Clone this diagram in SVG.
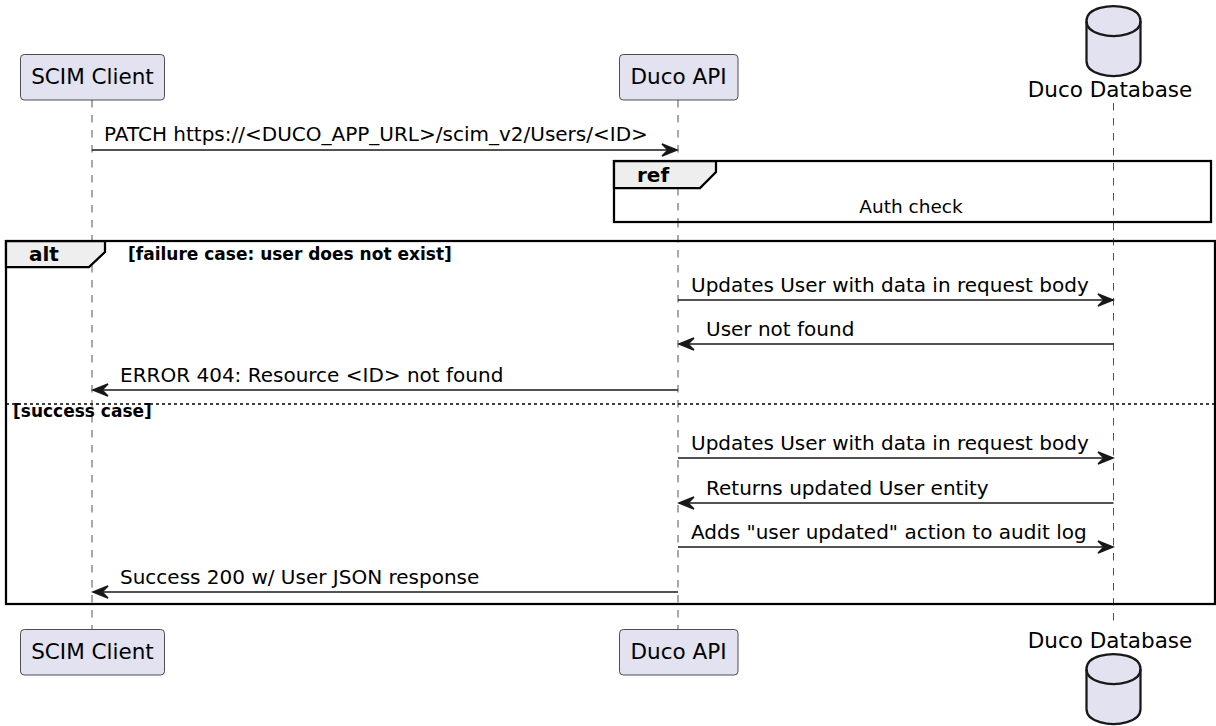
<svg xmlns="http://www.w3.org/2000/svg" width="1216" height="726" viewBox="0 0 1216 726">
<style>
 text { font-family: "DejaVu Sans", "Liberation Sans", sans-serif; fill:#000000; }
 .pbox { fill:#E2E2F0; stroke:#181818; stroke-width:0.75; }
 .pname { font-size:21.5px; text-anchor:middle; }
 .life { stroke:#181818; stroke-width:0.75; stroke-dasharray:7.5,7.5; fill:none; }
 .msg { stroke:#181818; stroke-width:1.5; fill:none; marker-end:url(#arr); }
 .mtext { font-size:20px; }
 .frame { fill:none; stroke:#000000; stroke-width:2.25; }
 .tab { fill:#EEEEEE; stroke:#000000; stroke-width:2.25; }
 .ftitle { font-size:20px; font-weight:bold; }
 .guard { font-size:17px; font-weight:bold; }
 .sep { stroke:#000000; stroke-width:1.5; stroke-dasharray:3,3; fill:none; }
 .db { fill:#E2E2F0; stroke:#181818; stroke-width:2.25; }
 .dbl { fill:none; stroke:#181818; stroke-width:2.25; }
</style>
<defs>
 <marker id="arr" markerUnits="userSpaceOnUse" markerWidth="18" markerHeight="14" refX="15" refY="6" orient="auto" overflow="visible">
  <polygon points="0,0 15,6 0,12 6,6" fill="#181818" stroke="#181818" stroke-width="1.5"/>
 </marker>
</defs>
<rect x="0" y="0" width="1216" height="726" fill="#FFFFFF"/>

<g id="lifelines">
 <line class="life" x1="92" y1="100" x2="92" y2="629"/>
 <line class="life" x1="678" y1="100" x2="678" y2="629"/>
 <line class="life" x1="1113.5" y1="103" x2="1113.5" y2="626"/>
</g>

<g id="ref-auth-check">
 <rect class="frame" x="614" y="161" width="597" height="61" style="fill:#FFFFFF"/>
 <polygon class="tab" points="614,161 716,161 716,172 700,188 614,188"/>
 <text class="ftitle" x="637" y="182">ref</text>
 <text x="911" y="213" font-size="18.5" text-anchor="middle">Auth check</text>
</g>
<line class="life" x1="678" y1="188" x2="678" y2="222"/>
<line class="life" x1="1113.5" y1="163" x2="1113.5" y2="220"/>

<g id="alt-frame">
 <rect class="frame" x="6" y="241" width="1209" height="363"/>
 <polygon class="tab" points="6,241 105,241 105,252 89,267 6,267"/>
 <text class="ftitle" x="29" y="261">alt</text>
 <text class="guard" x="128" y="260">[failure case: user does not exist]</text>
 <line class="sep" x1="6" y1="404" x2="1215" y2="404"/>
 <text class="guard" x="13" y="417">[success case]</text>
</g>

<g id="scim-client">
 <rect class="pbox" x="20.5" y="54.5" width="144" height="45.5" rx="3.75"/>
 <text class="pname" x="92.5" y="84">SCIM Client</text>
 <rect class="pbox" x="20.5" y="629.5" width="144" height="45.5" rx="3.75"/>
 <text class="pname" x="92.5" y="659">SCIM Client</text>
</g>

<g id="duco-api">
 <rect class="pbox" x="619.5" y="54.5" width="118.5" height="45.5" rx="3.75"/>
 <text class="pname" x="678.5" y="84">Duco API</text>
 <rect class="pbox" x="619.5" y="629.5" width="118.5" height="45.5" rx="3.75"/>
 <text class="pname" x="678.5" y="659">Duco API</text>
</g>

<g id="duco-database">
 <path class="db" d="M1086.5,21 C1086.5,6 1113.5,6 1113.5,6 C1113.5,6 1140.5,6 1140.5,21 L1140.5,61 C1140.5,76 1113.5,76 1113.5,76 C1113.5,76 1086.5,76 1086.5,61 Z"/>
 <path class="dbl" d="M1086.5,21 C1086.5,36 1113.5,36 1113.5,36 C1113.5,36 1140.5,36 1140.5,21"/>
 <text class="pname" x="1110" y="97">Duco Database</text>
 <text class="pname" x="1110" y="648">Duco Database</text>
 <path class="db" d="M1086.5,669 C1086.5,654 1113.5,654 1113.5,654 C1113.5,654 1140.5,654 1140.5,669 L1140.5,709 C1140.5,724 1113.5,724 1113.5,724 C1113.5,724 1086.5,724 1086.5,709 Z"/>
 <path class="dbl" d="M1086.5,669 C1086.5,684 1113.5,684 1113.5,684 C1113.5,684 1140.5,684 1140.5,669"/>
</g>

<g id="connectors">
 <line class="msg" x1="92" y1="150" x2="677" y2="150"/>
 <text class="mtext" x="104" y="141">PATCH https://&lt;DUCO_APP_URL&gt;/scim_v2/Users/&lt;ID&gt;</text>

 <line class="msg" x1="678" y1="300" x2="1113" y2="300"/>
 <text class="mtext" x="691" y="292">Updates User with data in request body</text>

 <line class="msg" x1="1113.5" y1="344" x2="679" y2="344"/>
 <text class="mtext" x="706" y="336">User not found</text>

 <line class="msg" x1="678" y1="390" x2="93" y2="390"/>
 <text class="mtext" x="120" y="382">ERROR 404: Resource &lt;ID&gt; not found</text>

 <line class="msg" x1="678" y1="458" x2="1113" y2="458"/>
 <text class="mtext" x="691" y="450">Updates User with data in request body</text>

 <line class="msg" x1="1113.5" y1="503" x2="679" y2="503"/>
 <text class="mtext" x="706" y="495">Returns updated User entity</text>

 <line class="msg" x1="678" y1="547" x2="1113" y2="547"/>
 <text class="mtext" x="691" y="539">Adds "user updated" action to audit log</text>

 <line class="msg" x1="678" y1="592" x2="93" y2="592"/>
 <text class="mtext" x="120" y="584">Success 200 w/ User JSON response</text>
</g>
</svg>
